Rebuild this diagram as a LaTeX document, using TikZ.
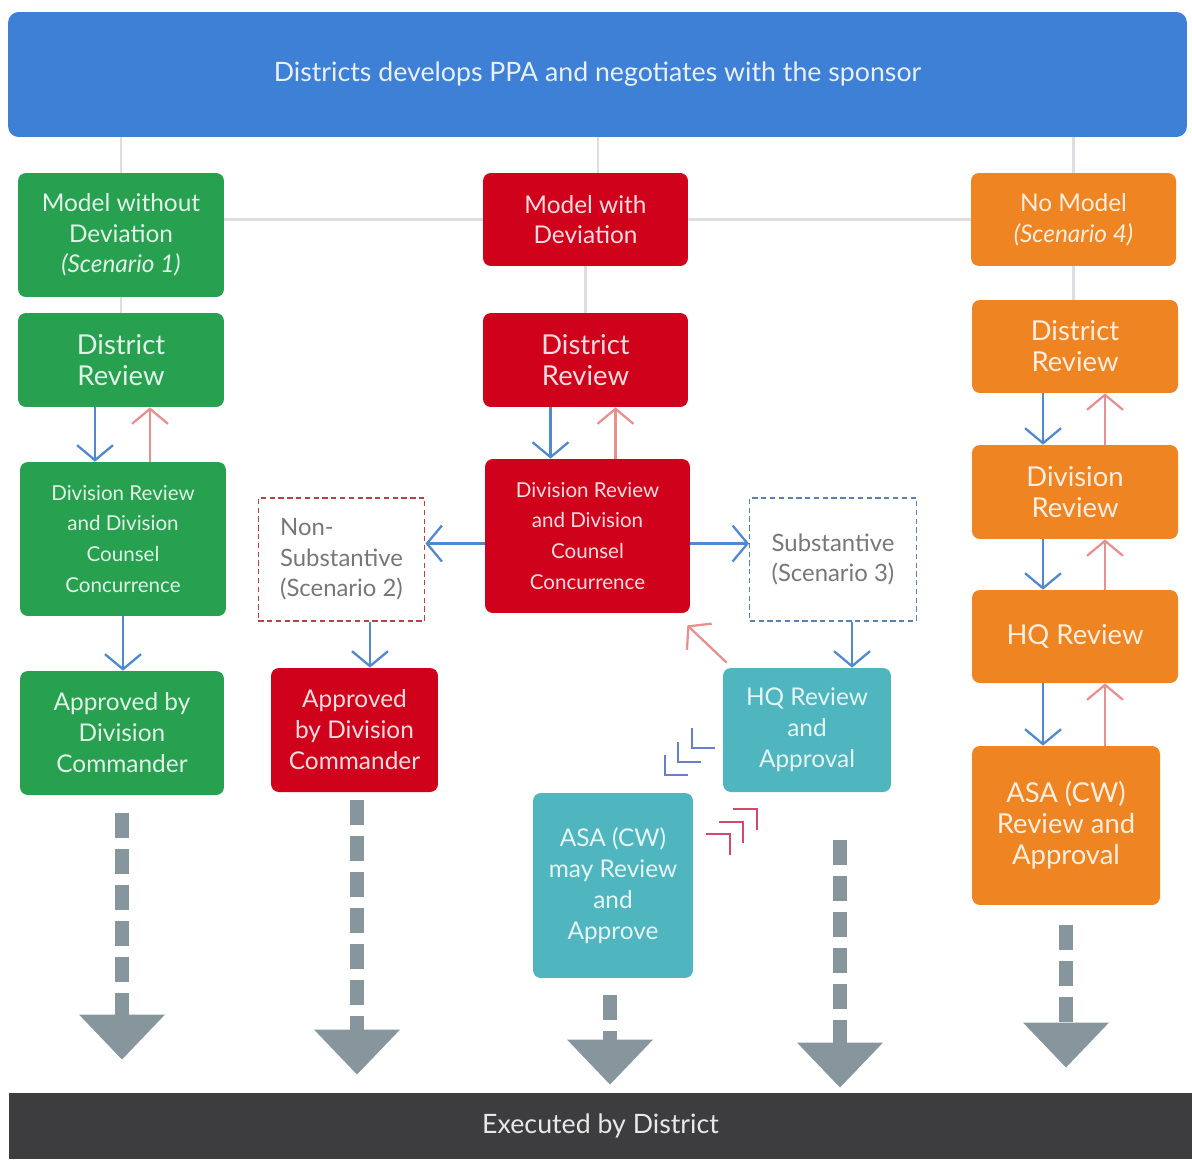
\documentclass[tikz,border=0pt]{standalone}
\usepackage{fontspec}
\setmainfont{Lato}
\usepackage{tikz}
\usetikzlibrary{arrows.meta,calc,positioning}
\definecolor{topCol}{HTML}{3E80D6}
\definecolor{grnCol}{HTML}{27A050}
\definecolor{redCol}{HTML}{D0021B}
\definecolor{orgCol}{HTML}{EE8422}
\definecolor{tealCol}{HTML}{4FB5BE}
\definecolor{barCol}{HTML}{3D3D3F}
\definecolor{execCol}{HTML}{87959C}
\definecolor{dnCol}{HTML}{5088D2}
\definecolor{upCol}{HTML}{E8908F}
\definecolor{chvBlue}{HTML}{6A7ED0}
\definecolor{chvRed}{HTML}{D04A6A}
\definecolor{treeCol}{HTML}{DDDDE2}
\definecolor{nsEdge}{HTML}{B8404A}
\definecolor{sbEdge}{HTML}{5A80B4}
\definecolor{noteTxt}{HTML}{777777}
\newcommand{\fsban}{\fontsize{15.2}{17}\selectfont}
\newcommand{\fsbig}{\fontsize{15.6}{17.6}\selectfont}
\newcommand{\fsmed}{\fontsize{13.9}{17.4}\selectfont}
\newcommand{\fshq}{\fontsize{13.9}{17.6}\selectfont}
\newcommand{\fssml}{\fontsize{11.7}{17.6}\selectfont}
\newcommand{\fsnote}{\fontsize{13.6}{17.4}\selectfont}
\tikzset{
  box/.style={fill=#1, text=white!86!#1, rounded corners=4.5pt, align=center, inner sep=2pt,
              minimum width=4.12cm},
  note/.style={draw=#1, densely dashed, line width=0.8pt, text=noteTxt, align=left,
               font=\fsnote, minimum width=3.33cm, minimum height=2.46cm},
  tree/.style={draw=treeCol, line width=1.6pt},                        % branch lines
  dn/.style={-{Straight Barb[length=0.3cm,width=0.72cm]}, dnCol, line width=1.3pt},  % forward
  up/.style={-{Straight Barb[length=0.3cm,width=0.72cm]}, upCol, line width=1.3pt},  % back
  exec/.style={draw=execCol, line width=0.28cm, dash pattern=on 0.5cm off 0.22cm,
               -{Triangle[length=0.9cm,width=1.66cm]}},
  chv/.style={line width=1.2pt, #1},
}

\begin{document}
\begin{tikzpicture}[x=0.02cm,y=-0.02cm]
  \useasboundingbox (0,0) rectangle (1192,1159);
  \node[fill=topCol, rounded corners=6pt, text=white!88!topCol, font=\fsban,
        minimum width=23.58cm, minimum height=2.5cm] (top) at (597.5,74.5)
        {Districts develops PPA and negotiates with the sponsor};
  \node[fill=barCol, text=white!88!barCol, font=\fsban,
        minimum width=23.66cm, minimum height=1.32cm] (done) at (600.5,1126) {Executed by District};

  % scenario 1
  \node[box=grnCol, font=\fsmed, minimum height=2.48cm] (g1) at (121,235) {Model without\\Deviation\\\textit{(Scenario 1)}};
  \node[box=grnCol, font=\fsbig, minimum height=1.88cm] (g2) at (121,360) {District\\Review};
  \node[box=grnCol, font=\fssml, minimum height=3.08cm] (g3) at (123,539) {Division Review\\and Division\\Counsel\\Concurrence};
  \node[box=grnCol, font=\fshq, minimum width=4.08cm, minimum height=2.48cm] (g4) at (122,733) {Approved by\\Division\\Commander};

  % scenarios 2 and 3
  \node[box=redCol, font=\fsmed, minimum width=4.1cm, minimum height=1.86cm] (r1) at (585.5,219.5) {Model with\\Deviation};
  \node[box=redCol, font=\fsbig, minimum width=4.1cm, minimum height=1.88cm] (r2) at (585.5,360) {District\\Review};
  \node[box=redCol, font=\fssml, minimum width=4.1cm, minimum height=3.08cm] (r3) at (587.5,536) {Division Review\\and Division\\Counsel\\Concurrence};
  \node[note=nsEdge] (ns) at (341.5,559.5) {Non-\\Substantive\\(Scenario 2)};
  \node[note=sbEdge] (sb) at (833,559.5) {Substantive\\(Scenario 3)};
  \node[box=redCol, font=\fshq, minimum width=3.34cm, minimum height=2.48cm] (r4) at (354.5,730) {Approved\\by Division\\Commander};
  \node[box=tealCol, font=\fshq, minimum width=3.36cm, minimum height=2.48cm] (hq) at (807,730) {HQ Review\\and\\Approval};
  \node[box=tealCol, font=\fshq, minimum width=3.2cm, minimum height=3.7cm] (asa) at (613,885.5) {ASA (CW)\\may Review\\and\\Approve};

  % scenario 4
  \node[box=orgCol, font=\fsmed, minimum width=4.1cm, minimum height=1.86cm] (o1) at (1073.5,219.5) {No Model\\\textit{(Scenario 4)}};
  \node[box=orgCol, font=\fsbig, minimum height=1.86cm] (o2) at (1075,346.5) {District\\Review};
  \node[box=orgCol, font=\fsbig, minimum height=1.88cm] (o3) at (1075,492) {Division\\Review};
  \node[box=orgCol, font=\fsbig, minimum height=1.86cm] (o4) at (1075,636.5) {HQ Review};
  \node[box=orgCol, font=\fsbig, minimum width=3.76cm, minimum height=3.18cm] (o5) at (1066,825.5) {ASA (CW)\\Review and\\Approval};

  \draw[tree] (g1.north) -- (g1.north |- top.south);
  \draw[tree] ([xshift=0.25cm]r1.north) -- ([xshift=0.25cm]r1.north |- top.south);
  \draw[tree] (o1.north) -- (o1.north |- top.south);
  \draw[tree] (g1.east |- r1.west) -- (r1.west);
  \draw[tree] (r1.east) -- (o1.west);
  \draw[tree] (g1.south) -- (g2.north);
  \draw[tree] (r1.south) -- (r2.north);
  \draw[tree] (o1.south) -- (o1.south |- o2.north);

  \draw[dn] ([xshift=-0.52cm]g2.south) -- ([xshift=-0.52cm]g2.south |- g3.north);
  \draw[up] ([xshift=0.58cm]g2.south |- g3.north) -- ([xshift=0.58cm]g2.south);
  \draw[dn] (g3.south) -- (g3.south |- g4.north);
  \draw[dn] ([xshift=-0.7cm]r2.south) -- ([xshift=-0.7cm]r2.south |- r3.north);
  \draw[up] ([xshift=0.6cm]r2.south |- r3.north) -- ([xshift=0.6cm]r2.south);
  \draw[dn] ([yshift=-0.15cm]r3.west) -- ([yshift=-0.15cm]r3.west -| ns.east);
  \draw[dn] ([yshift=-0.15cm]r3.east) -- ([yshift=-0.15cm]r3.east -| sb.west);
  \draw[dn] ([xshift=0.31cm]r4.north |- ns.south) -- ([xshift=0.31cm]r4.north);
  \draw[dn] ([xshift=0.9cm]hq.north |- sb.south) -- ([xshift=0.9cm]hq.north);
  \draw[up] ([shift={(0.08cm,0.1cm)}]hq.north west) -- ([shift={(-0.06cm,-0.24cm)}]r3.south east);
  \foreach \a/\b in {o2/o3,o3/o4,o4/o5}{
    \draw[dn] ([xshift=-0.64cm]o2.south |- \a.south) -- ([xshift=-0.64cm]o2.south |- \b.north);
    \draw[up] ([xshift=0.6cm]o2.south |- \b.north) -- ([xshift=0.6cm]o2.south |- \a.south);
  }

  \begin{scope}[shift={(hq.south west)}]
    \foreach \i in {0,1,2}{
      \draw[chv=chvBlue] ({-31-13.5*\i},{-64+13.5*\i}) -- ++(0,20) -- ++(23,0);
      \draw[chv=chvRed] ({10-13.5*\i},{17+12.5*\i}) -- ++(24,0) -- ++(0,21);
    }
  \end{scope}

  \draw[exec, shorten >=0.66cm] ([yshift=-0.36cm]g4.south) -- (g4.south |- done.north);
  \draw[exec, shorten >=0.36cm] ([xshift=0.05cm,yshift=-0.16cm]r4.south) -- ([xshift=0.05cm]r4.south |- done.north);
  \draw[exec, shorten >=0.16cm] ([xshift=-0.06cm,yshift=-0.34cm]asa.south) -- ([xshift=-0.06cm]asa.south |- done.north);
  \draw[exec, shorten >=0.1cm] ([xshift=0.66cm,yshift=-0.96cm]hq.south) -- ([xshift=0.66cm]hq.south |- done.north);
  \draw[exec, shorten >=0.5cm] ([yshift=-0.4cm]o5.south) -- (o5.south |- done.north);
\end{tikzpicture}
\end{document}
